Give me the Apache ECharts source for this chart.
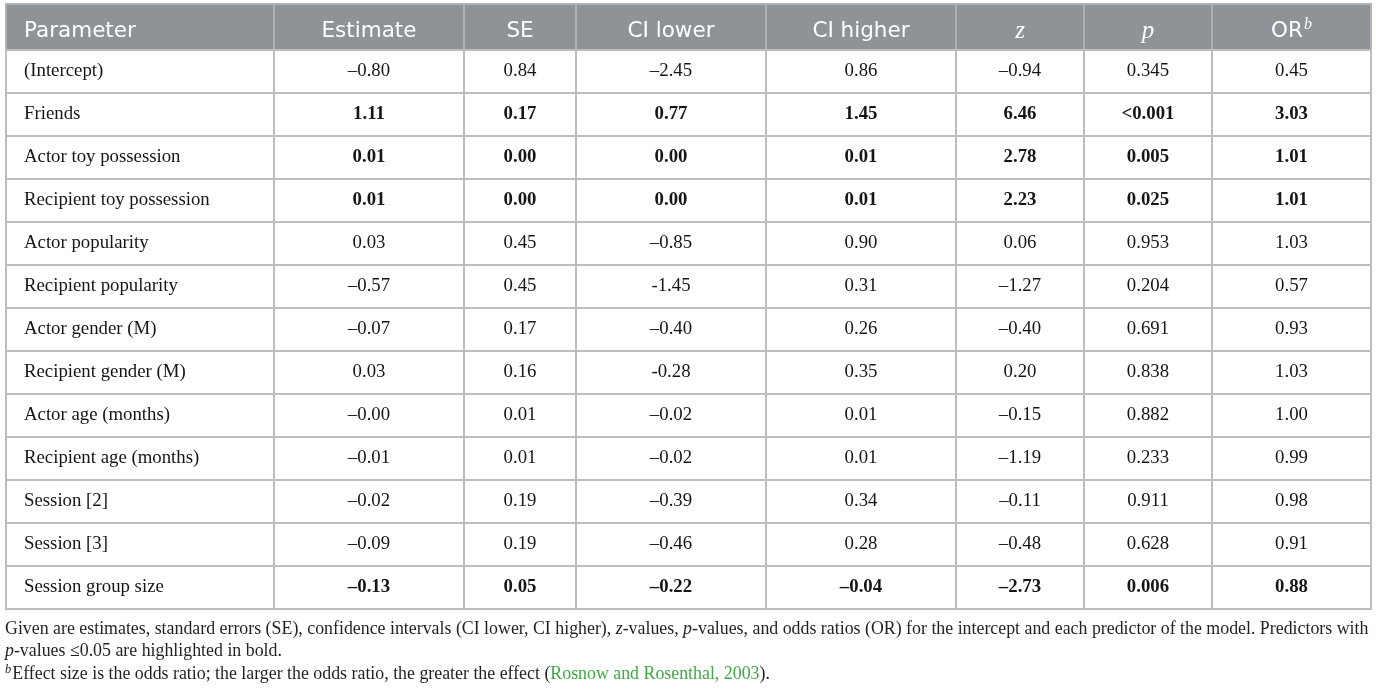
<!DOCTYPE html>
<html><head><meta charset="utf-8">
<script src="https://cdn.jsdelivr.net/npm/echarts@6.0.0/dist/echarts.min.js"></script>
<style>html,body{margin:0;padding:0;background:#fff}#c{width:1376px;height:692px}</style>
</head><body><div id="c"></div>
<script>
// ---- data ----
const headers = ['Parameter','Estimate','SE','CI lower','CI higher','z','p','OR'];
const parameters = ['(Intercept)','Friends','Actor toy possession','Recipient toy possession','Actor popularity','Recipient popularity','Actor gender (M)','Recipient gender (M)','Actor age (months)','Recipient age (months)','Session [2]','Session [3]','Session group size'];
const estimate = ['–0.80','1.11','0.01','0.01','0.03','–0.57','–0.07','0.03','–0.00','–0.01','–0.02','–0.09','–0.13'];
const se = ['0.84','0.17','0.00','0.00','0.45','0.45','0.17','0.16','0.01','0.01','0.19','0.19','0.05'];
const ciLower = ['–2.45','0.77','0.00','0.00','–0.85','-1.45','–0.40','-0.28','–0.02','–0.02','–0.39','–0.46','–0.22'];
const ciHigher = ['0.86','1.45','0.01','0.01','0.90','0.31','0.26','0.35','0.01','0.01','0.34','0.28','–0.04'];
const zValue = ['–0.94','6.46','2.78','2.23','0.06','–1.27','–0.40','0.20','–0.15','–1.19','–0.11','–0.48','–2.73'];
const pValue = ['0.345','<0.001','0.005','0.025','0.953','0.204','0.691','0.838','0.882','0.233','0.911','0.628','0.006'];
const oddsRatio = ['0.45','3.03','1.01','1.01','1.03','0.57','0.93','1.03','1.00','0.99','0.98','0.91','0.88'];
const boldRows = [1,2,3,12];
const footnote1 = 'Given are estimates, standard errors (SE), confidence intervals (CI lower, CI higher), {i|z}-values, {i|p}-values, and odds ratios (OR) for the intercept and each predictor of the model. Predictors with';
const footnote2 = '{i|p}-values ≤0.05 are highlighted in bold.';
const footnote3 = '{sup|b}Effect size is the odds ratio; the larger the odds ratio, the greater the effect ({g|Rosnow and Rosenthal, 2003}).';

// ---- layout ----
const colWidths = [268,190,112,190,190,128,128,159];
const colStarts = [0];
colWidths.forEach((w,i)=>colStarts.push(colStarts[i]+w));
const totalW = colStarts[colStarts.length-1];
const columns = [parameters, estimate, se, ciLower, ciHigher, zValue, pValue, oddsRatio];

const SERIF = 'Liberation Serif';
const SANS = 'DejaVu Sans';
const FOOT = 17.85;

const headerData = headers.map((h,i)=>[colStarts[i], 0, colStarts[i+1], i]);
const bodyData = [];
parameters.forEach((p,r)=>{
  columns.forEach((col,c)=>{ bodyData.push([colStarts[c], r, colStarts[c+1], c]); });
});

function cellGeom(api){
  const p0 = api.coord([api.value(0), api.value(1)]);
  const p1 = api.coord([api.value(2), api.value(1)]);
  const h = api.size([0,1])[1];
  return {x:p0[0], y:p0[1]-h/2, w:p1[0]-p0[0], h:h, cy:p0[1]};
}

function headerText(c){
  const h = headers[c];
  if (h === 'z' || h === 'p') return '{it|' + h + '}';
  if (h === 'OR') return '{n|OR}{sup|b}';
  return h;
}

function renderHeader(params, api){
  const c = api.value(3);
  const g = cellGeom(api);
  return {
    type:'group',
    children:[
      {type:'rect', shape:{x:g.x, y:g.y, width:g.w, height:g.h},
       style:{fill:'#8d9396', stroke:'#aeb2b5', lineWidth:2}},
      {type:'text', style:{
        text: headerText(c),
        x: c===0 ? g.x+18 : g.x+g.w/2, y: g.cy+4,
        align: c===0 ? 'left' : 'center', verticalAlign:'middle',
        fill:'#ffffff', fontFamily:SANS, fontSize:21.5,
        rich:{
          it:{fontFamily:SERIF, fontStyle:'italic', fontSize:25, fill:'#ffffff'},
          n:{fontFamily:SANS, fontSize:21.5, fill:'#ffffff'},
          sup:{fontFamily:SERIF, fontStyle:'italic', fontSize:16, fill:'#ffffff', padding:[0,0,13,1]}
        }
      }}
    ]
  };
}

function renderBody(params, api){
  const c = api.value(3);
  const r = api.value(1);
  const g = cellGeom(api);
  const bold = c>0 && boldRows.indexOf(r) >= 0;
  return {
    type:'group',
    children:[
      {type:'rect', shape:{x:g.x, y:g.y, width:g.w, height:g.h},
       style:{fill:'#ffffff', stroke:'#bdbdbd', lineWidth:2}},
      {type:'text', style:{
        text: columns[c][r],
        x: c===0 ? g.x+18 : g.x+g.w/2, y: g.cy,
        align: c===0 ? 'left' : 'center', verticalAlign:'middle',
        fill:'#151515', fontFamily:SERIF, fontSize:18.8,
        fontWeight: bold ? 'bold' : 'normal'
      }}
    ]
  };
}

const footStyle = {fontFamily:SERIF, fontSize:FOOT, fill:'#231f20'};
const footRich = {
  i:{fontFamily:SERIF, fontSize:FOOT, fontStyle:'italic', fill:'#231f20'},
  sup:{fontFamily:SERIF, fontSize:12.5, fontStyle:'italic', fill:'#231f20', padding:[0,1,9,0]},
  g:{fontFamily:SERIF, fontSize:FOOT, fill:'#3fa844'}
};

const chart = echarts.init(document.getElementById('c'), null, {renderer:'canvas'});
chart.setOption({
  animation:false,
  backgroundColor:'#ffffff',
  grid:[
    {left:6, top:4, width:totalW, height:46},
    {left:6, top:50, width:totalW, height:559}
  ],
  xAxis:[
    {type:'value', gridIndex:0, min:0, max:totalW, show:false},
    {type:'value', gridIndex:1, min:0, max:totalW, show:false}
  ],
  yAxis:[
    {type:'category', gridIndex:0, data:['header'], show:false},
    {type:'category', gridIndex:1, data:parameters, inverse:true, show:false}
  ],
  series:[
    {type:'custom', xAxisIndex:0, yAxisIndex:0, data:headerData, renderItem:renderHeader,
     encode:{x:[0,2], y:1}, silent:true, clip:false},
    {type:'custom', xAxisIndex:1, yAxisIndex:1, data:bodyData, renderItem:renderBody,
     encode:{x:[0,2], y:1}, silent:true, clip:false}
  ],
  graphic:[
    {type:'text', x:5, y:629, style:Object.assign({text:footnote1, rich:footRich, align:'left', verticalAlign:'middle'}, footStyle)},
    {type:'text', x:5, y:651.5, style:Object.assign({text:footnote2, rich:footRich, align:'left', verticalAlign:'middle'}, footStyle)},
    {type:'text', x:5, y:674, style:Object.assign({text:footnote3, rich:footRich, align:'left', verticalAlign:'middle'}, footStyle)}
  ]
});
</script>
</body></html>
